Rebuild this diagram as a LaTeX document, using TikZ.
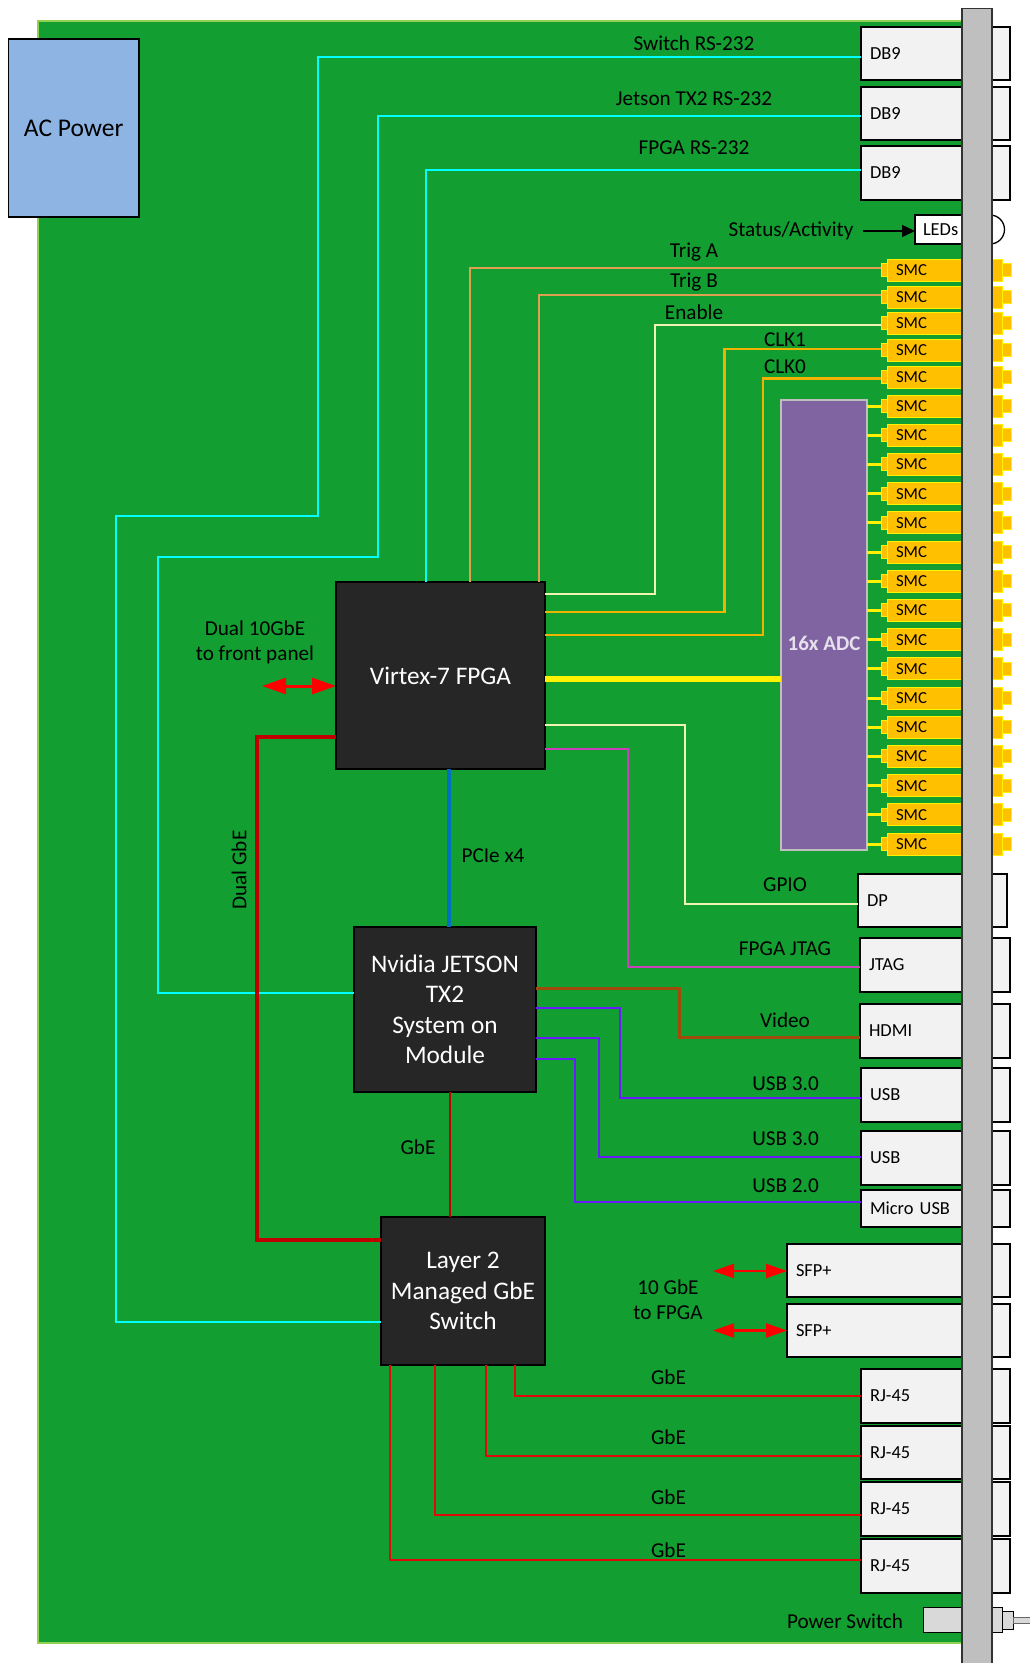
\documentclass[tikz,border=0pt]{standalone}
\usepackage{fontspec}
\setmainfont{Carlito}
\usetikzlibrary{arrows.meta,calc}
\definecolor{board}{HTML}{129E30}
\definecolor{boardedge}{HTML}{92D050}
\definecolor{chip}{HTML}{262626}
\definecolor{conn}{HTML}{F2F2F2}
\definecolor{panel}{HTML}{BFBFBF}
\definecolor{cyanline}{HTML}{00FFFF}
\definecolor{tanline}{HTML}{E0A050}
\definecolor{paleline}{HTML}{EFF5B0}
\definecolor{clkline}{HTML}{F0B400}
\definecolor{gold}{HTML}{FFC000}
\definecolor{magline}{HTML}{CC40BC}
\definecolor{brownline}{HTML}{A04B0A}
\definecolor{usbline}{HTML}{6A1AFF}
\definecolor{darkred}{HTML}{C00000}
\definecolor{gberead}{HTML}{E00808}
\definecolor{pciline}{HTML}{0070C0}
\definecolor{adcfill}{HTML}{8064A2}
\definecolor{adctext}{HTML}{E6E0EC}
\definecolor{acfill}{HTML}{8EB4E3}
\definecolor{swfill}{HTML}{D9D9D9}
\tikzset{
  basebox/.style={rectangle,inner sep=0pt,outer sep=0pt},
  chipbox/.style={basebox,draw=black,line width=1.3pt,fill=chip,text=white,align=center,font=\fontsize{25.3}{30.5}\selectfont},
  connbox/.style={basebox,inner xsep=9pt,draw=black,line width=1.3pt,fill=conn,align=left,font=\fontsize{18.4}{22}\selectfont},
  smcbody/.style={basebox,inner xsep=9pt,draw=yellow,line width=1pt,fill=gold,align=left,font=\fontsize{16.8}{20}\selectfont},
  smcstub/.style={basebox,draw=yellow,line width=1pt,fill=gold},
  lbl/.style={inner sep=0pt,align=center,font=\fontsize{21.2}{25}\selectfont},
  wire/.style={line width=#1,line join=miter},
  wire/.default=2.2pt,
  redarrow/.style={red,line width=2.2pt,{Stealth[length=21pt,width=14pt,inset=0pt]}-{Stealth[length=21pt,width=14pt,inset=0pt]}},
  bigredarrow/.style={red,line width=3pt,{Stealth[length=24pt,width=16pt,inset=0pt]}-{Stealth[length=24pt,width=16pt,inset=0pt]}},
}
% box from corners: style, name, x1, y1, x2, y2, text
\newcommand{\Bx}[7]{%
  \pgfmathsetmacro{\wdv}{#5-#3-18}%
  \pgfmathsetmacro{\htv}{#6-#4}%
  \node[#1,anchor=north west,text width=\wdv pt,minimum height=\htv pt] (#2) at (#3,#4) {#7};}
\newcommand{\Cx}[7]{%
  \pgfmathsetmacro{\wdv}{#5-#3}%
  \pgfmathsetmacro{\htv}{#6-#4}%
  \node[#1,anchor=north west,minimum width=\wdv pt,minimum height=\htv pt] (#2) at (#3,#4) {#7};}
% one SMC: name, centre y
\newcommand{\Smc}[2]{%
  \pgfmathsetmacro{\ya}{#2-6.5}\pgfmathsetmacro{\yb}{#2+6.5}%
  \pgfmathsetmacro{\yc}{#2-11}\pgfmathsetmacro{\yd}{#2+11}%
  \Cx{smcstub}{#1L}{881}{\ya}{887}{\yb}{}%
  \Cx{smcstub}{#1R}{1002}{\ya}{1011}{\yb}{}%
  \Bx{smcbody}{#1}{887}{\yc}{1002}{\yd}{SMC}}
\begin{document}
\begin{tikzpicture}[x=1pt,y=-1pt]
\useasboundingbox (0,0) rectangle (1030,1663);
\fill[white] (0,0) rectangle (1030,1663);
% board
\draw[fill=board,draw=boardedge,line width=1.2pt] (38,21) rectangle (975,1643);
% main chips
\Cx{chipbox}{fpga}{336}{582}{545}{769}{Virtex-7 FPGA}
\Cx{chipbox}{tx}{354}{927}{536}{1092}{Nvidia JETSON\\TX2\\System on\\Module}
\Cx{chipbox}{sw}{381}{1217}{545}{1365}{Layer 2\\Managed GbE\\Switch}
\Cx{basebox,draw=black,line width=1.3pt,fill=acfill,font=\fontsize{25.5}{28}\selectfont}{ac}{8.5}{39}{139}{217}{AC Power}
\Cx{basebox,draw=lightgray,line width=1.3pt,fill=adcfill}{adc}{781}{400}{867}{850}{}
\node[inner sep=0pt,text=adctext,font=\bfseries\fontsize{21}{24}\selectfont] (adclabel) at (824,643) {16x ADC};
% connectors on the panel
\Bx{connbox}{dba}{861}{27}{1010}{80}{DB9}
\Bx{connbox}{dbb}{861}{87}{1010}{140}{DB9}
\Bx{connbox}{dbc}{861}{146}{1010}{200}{DB9}
\Bx{connbox}{dp}{858}{874}{1007}{927}{DP}
\Bx{connbox}{jtag}{860}{938}{1010}{992}{JTAG}
\Bx{connbox}{hdmi}{860}{1004}{1010}{1058}{HDMI}
\Bx{connbox}{usba}{861}{1068}{1010}{1122}{USB}
\Bx{connbox}{usbb}{861}{1131}{1010}{1185}{USB}
\Bx{connbox}{musb}{861}{1190}{1010}{1227}{Micro USB}
\Bx{connbox}{sfpa}{787}{1244}{1010}{1297}{SFP+}
\Bx{connbox}{sfpb}{787}{1304}{1010}{1357}{SFP+}
\Bx{connbox}{rja}{861}{1369}{1010}{1423}{RJ-45}
\Bx{connbox}{rjb}{861}{1426}{1010}{1479}{RJ-45}
\Bx{connbox}{rjc}{861}{1482}{1010}{1536}{RJ-45}
\Bx{connbox}{rjd}{861}{1539}{1010}{1593}{RJ-45}
% LEDs
\node[circle,inner sep=0pt,outer sep=0pt,draw=black,line width=1.3pt,fill=white,minimum size=29pt] (ledlens) at (990,229.5) {};
\Bx{basebox,inner xsep=8pt,draw=black,line width=1.3pt,fill=white,align=left,font=\fontsize{18.4}{22}\selectfont}{led}{915}{215}{985}{244}{LEDs}
% power switch
\Cx{basebox,draw=black,line width=1pt,fill=swfill}{pwa}{923}{1607}{1002}{1632}{}
\Cx{basebox,draw=black,line width=1pt,fill=swfill}{pwb}{1002}{1611}{1013}{1629}{}
\Cx{basebox,draw=black!60,line width=0.8pt,fill=swfill}{pwc}{1013}{1617}{1032}{1623}{}
% SMCs
\Smc{sa}{270}\Smc{sb}{297}\Smc{sc}{323}\Smc{sd}{350}\Smc{se}{377}
\foreach \i [evaluate=\i as \yy using {406+(\i-1)*29.2}] in {1,...,16}{
  \Smc{adcs\i}{\yy}
  \draw[yellow,line width=3pt] (adc.east |- adcs\i.west) -- (adcs\i L.west);
}
% wires
\draw[wire,cyanline] (dba.west |- 0,57) -- (318,57) -- (318,516) -- (116,516) -- (116,1322) -- (sw.west |- 0,1322);
\draw[wire,cyanline] (dbb.west |- 0,116) -- (378,116) -- (378,557) -- (158,557) -- (158,993) -- (tx.west |- 0,993);
\draw[wire,cyanline] (dbc.west |- 0,170) -- (426,170) -- (426,0 |- fpga.north);
\draw[wire,tanline] (saL.west |- 0,268) -- (470,268) -- (470,0 |- fpga.north);
\draw[wire,tanline] (sbL.west |- 0,295) -- (539,295) -- (539,0 |- fpga.north);
\draw[wire,paleline] (scL.west |- 0,325) -- (655,325) -- (655,594) -- (fpga.east |- 0,594);
\draw[wire,clkline] (sdL.west |- 0,349) -- (724.5,349) -- (724.5,612) -- (fpga.east |- 0,612);
\draw[wire,clkline] (seL.west |- 0,378.5) -- (763,378.5) -- (763,635) -- (fpga.east |- 0,635);
\draw[yellow,line width=6pt] (fpga.east |- 0,679) -- (adc.west |- 0,679);
\draw[wire,paleline] (fpga.east |- 0,725) -- (685,725) -- (685,904) -- (dp.west |- 0,904);
\draw[wire,magline] (fpga.east |- 0,749) -- (628,749) -- (628,967) -- (jtag.west |- 0,967);
\draw[wire=3pt,brownline] (tx.east |- 0,988) -- (679,988) -- (679,1037) -- (hdmi.west |- 0,1037);
\draw[wire=2.6pt,usbline] (tx.east |- 0,1008) -- (620,1008) -- (620,1098) -- (usba.west |- 0,1098);
\draw[wire=2.6pt,usbline] (tx.east |- 0,1038) -- (599,1038) -- (599,1157) -- (usbb.west |- 0,1157);
\draw[wire=2.6pt,usbline] (tx.east |- 0,1059) -- (575,1059) -- (575,1202) -- (musb.west |- 0,1202);
\draw[pciline,line width=3.2pt] (449,0 |- fpga.south) -- (449,0 |- tx.north);
\draw[darkred,line width=2.6pt] (450,0 |- tx.south) -- (450,0 |- sw.north);
\draw[darkred,line width=3.6pt] (fpga.west |- 0,737) -- (257,737) -- (257,1240) -- (sw.west |- 0,1240);
\draw[wire=2.6pt,gberead] (515,0 |- sw.south) -- (515,1396) -- (rja.west |- 0,1396);
\draw[wire=2.6pt,gberead] (486,0 |- sw.south) -- (486,1456) -- (rjb.west |- 0,1456);
\draw[wire=2.6pt,gberead] (435,0 |- sw.south) -- (435,1515) -- (rjc.west |- 0,1515);
\draw[wire=2.6pt,gberead] (390,0 |- sw.south) -- (390,1560) -- (rjd.west |- 0,1560);
% free-end arrows
\coordinate (tenfront) at (262,686);
\coordinate (sfpfreea) at (713,1271);
\coordinate (sfpfreeb) at (713,1330.5);
\coordinate (statusend) at (863,231);
\draw[bigredarrow] (tenfront) -- (fpga.west |- tenfront);
\draw[redarrow] (sfpfreea) -- (sfpa.west |- sfpfreea);
\draw[redarrow] (sfpfreeb) -- (sfpb.west |- sfpfreeb);
\draw[black,line width=1.4pt,-{Stealth[length=13pt,width=12pt,inset=0pt]}] (statusend) -- (led.west |- statusend);
% panel on top
\node[basebox,draw=black!80,line width=1.3pt,fill=panel,anchor=north west,minimum width=30pt,minimum height=1665pt] (frontpanel) at (962,8.5) {};
% labels
\node[lbl] (l1) at (694,43) {Switch RS-232};
\node[lbl] (l2) at (694,98.6) {Jetson TX2 RS-232};
\node[lbl] (l3) at (694,147.5) {FPGA RS-232};
\node[lbl] (l4) at (791,231) {Status/Activity};
\node[lbl] (l5) at (694,252) {Trig A};
\node[lbl] (l6) at (694,282.5) {Trig B};
\node[lbl] (l7) at (694,312) {Enable};
\node[lbl] (l8) at (785,339.5) {CLK1};
\node[lbl] (l9) at (785,366.5) {CLK0};
\node[lbl] (l10) at (255,642) {Dual 10GbE\\to front panel};
\node[lbl] (l11) at (493,856) {PCIe x4};
\node[lbl,rotate=90] (l12) at (239,870) {Dual GbE};
\node[lbl] (l13) at (785,885) {GPIO};
\node[lbl] (l14) at (785,949) {FPGA JTAG};
\node[lbl] (l15) at (785,1020) {Video};
\node[lbl] (l16) at (785.5,1084) {USB 3.0};
\node[lbl] (l17) at (785.5,1139) {USB 3.0};
\node[lbl] (l18) at (785.5,1186) {USB 2.0};
\node[lbl] (l19) at (668,1300) {10 GbE\\to FPGA};
\node[lbl] (l20) at (668.5,1377) {GbE};
\node[lbl] (l21) at (668.5,1437) {GbE};
\node[lbl] (l22) at (668.5,1497) {GbE};
\node[lbl] (l23) at (668.5,1550) {GbE};
\node[lbl] (l24) at (418,1147) {GbE};
\node[lbl] (l25) at (845,1621) {Power Switch};
\end{tikzpicture}
\end{document}
